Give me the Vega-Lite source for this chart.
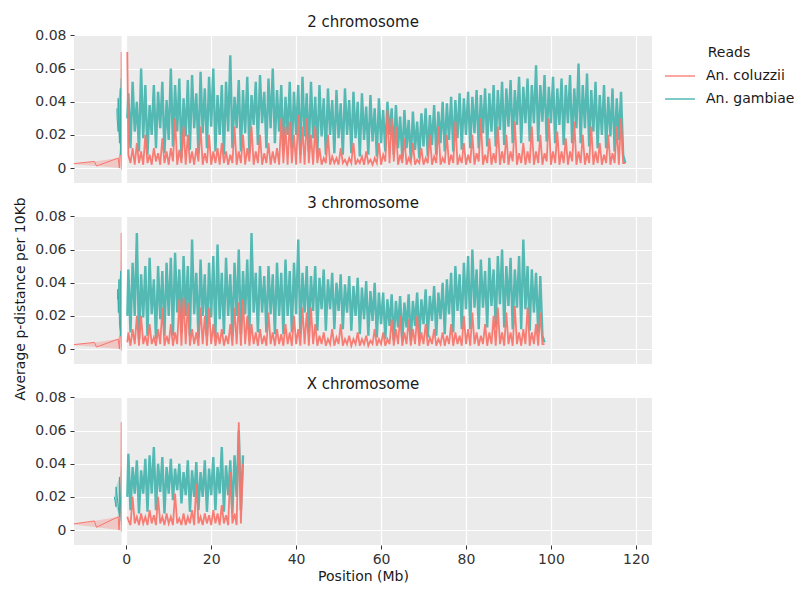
{
"$schema": "https://vega.github.io/schema/vega-lite/v6.json",
"background": "white",
"padding": {"left": 13, "top": 14, "right": 5, "bottom": 4},
"spacing": 9,
"title": {"text": "Average p-distance per 10Kb", "orient": "left", "anchor": "middle", "fontSize": 14, "offset": 7, "color": "#1a1a1a"},
"config": {
  "font": "DejaVu Sans",
  "view": {"fill": "#EBEBEB", "stroke": null},
  "axis": {"grid": true, "gridColor": "white", "gridWidth": 1.2, "domain": false, "tickColor": "#333333", "tickSize": 4, "labelPadding": 4, "labelColor": "#333333", "labelFontSize": 14, "titleFontSize": 14, "titleFontWeight": "normal", "titleColor": "#1a1a1a"},
  "title": {"fontSize": 15, "fontWeight": "normal", "color": "#1a1a1a", "offset": -1.5, "anchor": "middle"},
  "legend": {"titleFontSize": 14, "titleFontWeight": "normal", "labelFontSize": 14, "labelColor": "#1a1a1a", "titleColor": "#1a1a1a"}
},
"resolve": {"scale": {"color": "shared"}, "legend": {"color": "shared"}},
"vconcat": [
{
 "title": {"text": "2 chromosome"},
 "width": 578, "height": 148,
 "data": {"values": "x,c,g\n0.25,.07,.03\n0.5,.008,.045\n1,.003,.012\n1.5,.012,.052\n2,.002,.022\n2.5,.015,.04\n3,.003,.01\n3.5,.01,.06\n4,.002,.018\n4.5,.02,.05\n5,.003,.008\n5.5,.008,.038\n6,.002,.02\n6.5,.012,.05\n7,.004,.012\n7.5,.009,.046\n8,.002,.024\n8.5,.018,.052\n9,.003,.009\n9.5,.01,.041\n10,.002,.017\n10.5,.012,.06\n11,.004,.013\n11.5,.03,.05\n12,.002,.022\n12.5,.011,.054\n13,.003,.006\n13.5,.025,.042\n14,.002,.019\n14.5,.02,.053\n15,.003,.011\n15.5,.01,.056\n16,.002,.024\n16.5,.012,.045\n17,.004,.009\n17.5,.025,.058\n18,.002,.021\n18.5,.009,.048\n19,.003,.012\n19.5,.02,.055\n20,.002,.025\n20.5,.01,.06\n21,.003,.01\n21.5,.012,.044\n22,.002,.02\n22.5,.015,.05\n23,.003,.008\n23.5,.01,.052\n24,.002,.022\n24.5,.008,.068\n25,.003,.012\n25.5,.025,.043\n26,.002,.024\n26.5,.01,.053\n27,.003,.01\n27.5,.02,.047\n28,.002,.021\n28.5,.012,.055\n29,.004,.009\n29.5,.025,.044\n30,.002,.026\n30.5,.01,.052\n31,.003,.014\n31.5,.02,.056\n32,.002,.027\n32.5,.009,.046\n33,.003,.012\n33.5,.015,.054\n34,.002,.024\n34.5,.01,.06\n35,.003,.015\n35.5,.012,.047\n36,.002,.022\n36.5,.03,.05\n37,.003,.01\n37.5,.025,.043\n38,.002,.02\n38.5,.028,.052\n39,.003,.012\n39.5,.02,.046\n40,.002,.02\n40.5,.032,.05\n41,.003,.008\n41.5,.025,.055\n42,.002,.019\n42.5,.03,.045\n43,.003,.01\n43.5,.02,.052\n44,.002,.018\n44.5,.025,.043\n45,.003,.009\n45.5,.012,.05\n46,.002,.019\n46.5,.006,.042\n47,.003,.008\n47.5,.02,.048\n48,.002,.02\n48.5,.007,.041\n49,.003,.009\n49.5,.006,.047\n50,.002,.018\n50.5,.012,.039\n51,.003,.008\n51.5,.005,.048\n52,.002,.02\n52.5,.006,.041\n53,.003,.009\n53.5,.015,.046\n54,.002,.018\n54.5,.005,.04\n55,.003,.007\n55.5,.007,.045\n56,.002,.017\n56.5,.01,.037\n57,.003,.008\n57.5,.005,.044\n58,.002,.016\n58.5,.006,.036\n59,.003,.007\n59.5,.015,.042\n60,.002,.015\n60.5,.008,.035\n61,.004,.01\n61.5,.035,.04\n62,.003,.02\n62.5,.03,.036\n63,.004,.008\n63.5,.025,.038\n64,.002,.012\n64.5,.008,.031\n65,.003,.006\n65.5,.018,.035\n66,.002,.012\n66.5,.006,.029\n67,.003,.005\n67.5,.015,.034\n68,.002,.011\n68.5,.005,.028\n69,.003,.006\n69.5,.012,.033\n70,.002,.013\n70.5,.006,.036\n71,.003,.007\n71.5,.02,.032\n72,.002,.014\n72.5,.007,.038\n73,.003,.008\n73.5,.025,.034\n74,.002,.015\n74.5,.006,.04\n75,.003,.01\n75.5,.02,.039\n76,.002,.017\n76.5,.008,.043\n77,.003,.01\n77.5,.028,.041\n78,.002,.018\n78.5,.007,.045\n79,.003,.011\n79.5,.015,.042\n80,.002,.02\n80.5,.008,.046\n81,.003,.012\n81.5,.02,.043\n82,.002,.021\n82.5,.009,.047\n83,.004,.012\n83.5,.03,.044\n84,.002,.021\n84.5,.008,.048\n85,.003,.013\n85.5,.018,.045\n86,.002,.022\n86.5,.009,.05\n87,.003,.013\n87.5,.025,.047\n88,.002,.023\n88.5,.01,.052\n89,.003,.014\n89.5,.02,.048\n90,.002,.025\n90.5,.01,.053\n91,.004,.015\n91.5,.028,.047\n92,.002,.026\n92.5,.009,.055\n93,.003,.015\n93.5,.015,.049\n94,.002,.027\n94.5,.01,.054\n95,.003,.016\n95.5,.025,.05\n96,.002,.027\n96.5,.01,.062\n97,.003,.016\n97.5,.02,.05\n98,.002,.028\n98.5,.009,.056\n99,.004,.016\n99.5,.03,.049\n100,.002,.027\n100.5,.01,.055\n101,.003,.015\n101.5,.022,.048\n102,.002,.026\n102.5,.01,.054\n103,.003,.014\n103.5,.018,.05\n104,.002,.027\n104.5,.01,.056\n105,.004,.015\n105.5,.028,.048\n106,.002,.024\n106.5,.01,.063\n107,.003,.015\n107.5,.02,.05\n108,.002,.024\n108.5,.009,.057\n109,.003,.013\n109.5,.025,.047\n110,.002,.022\n110.5,.01,.052\n111,.003,.012\n111.5,.015,.044\n112,.002,.02\n112.5,.008,.05\n113,.003,.012\n113.5,.02,.043\n114,.002,.019\n114.5,.009,.048\n115,.003,.01\n115.5,.025,.042\n116,.002,.017\n116.5,.03,.046\n117,.003,.008\n117.5,.003,.003", "format": {"type": "csv", "parse": {"x": "number", "c": "number", "g": "number"}}},
 "encoding": {"x": {"field": "x", "type": "quantitative", "scale": {"domain": [-12.3, 123.8], "nice": false, "zero": false}, "axis": {"values": [0, 20, 40, 60, 80, 100, 120], "labels": false, "ticks": false, "title": null}}},
 "layer": [
  {"data": {"values": "r,y,x\nAn. coluzzii,-0.001,-1.1\nAn. coluzzii,0,-1.6\nAn. coluzzii,0.0012,-7\nAn. coluzzii,0.0025,-13\nAn. coluzzii,0.004,-7.5\nAn. coluzzii,0.006,-1.9\nAn. coluzzii,0.01,-1.4\nAn. coluzzii,0.02,-1.25\nAn. coluzzii,0.07,-1.15\nAn. gambiae,0.001,-1.1\nAn. gambiae,0.008,-1.3\nAn. gambiae,0.015,-1.6\nAn. gambiae,0.022,-1.9\nAn. gambiae,0.03,-2.15\nAn. gambiae,0.036,-2.2\nAn. gambiae,0.042,-1.9\nAn. gambiae,0.048,-1.4\nAn. gambiae,0.054,-1.15\nAn. gambiae,0.06,-1.1", "format": {"type": "csv", "parse": {"y": "number", "x": "number"}}},
   "mark": {"type": "area", "orient": "horizontal", "clip": true, "fillOpacity": 0.3, "line": {"strokeWidth": 1}},
   "encoding": {"y": {"field": "y", "type": "quantitative", "scale": {"domain": [-0.009, 0.0802], "nice": false, "zero": false}, "axis": {"values": [0, 0.02, 0.04, 0.06, 0.08], "labelExpr": "datum.value == 0 ? '0' : format(datum.value, '.2f')", "title": null}}, "x2": {"datum": -1.1}, "color": {"field": "r", "type": "nominal", "title": "Reads", "scale": {"domain": ["An. coluzzii", "An. gambiae"], "range": ["#F8766D", "#3AAFA9"]}, "legend": {"orient": "none", "legendX": 590, "legendY": 11, "symbolType": "stroke", "symbolSize": 900, "symbolStrokeWidth": 1.5, "symbolOpacity": 0.5, "labelOffset": 10, "titleAnchor": "middle", "titlePadding": 0, "rowPadding": -2}}}},
  {"data": {"values": [{"x": -0.5}]}, "mark": {"type": "rule", "color": "white", "strokeWidth": 5}, "encoding": {}},
  {"mark": {"type": "line", "strokeWidth": 2.4, "opacity": 0.85, "clip": true},
   "encoding": {"y": {"field": "g", "type": "quantitative", "scale": {"domain": [-0.009, 0.0802], "nice": false, "zero": false}, "axis": {"values": [0, 0.02, 0.04, 0.06, 0.08], "labelExpr": "datum.value == 0 ? '0' : format(datum.value, '.2f')", "title": null}}, "color": {"datum": "An. gambiae", "type": "nominal", "title": "Reads"}}},
  {"mark": {"type": "line", "strokeWidth": 1.8, "opacity": 0.95, "clip": true},
   "encoding": {"y": {"field": "c", "type": "quantitative", "scale": {"domain": [-0.009, 0.0802], "nice": false, "zero": false}, "axis": {"values": [0, 0.02, 0.04, 0.06, 0.08], "labelExpr": "datum.value == 0 ? '0' : format(datum.value, '.2f')", "title": null}}, "color": {"datum": "An. coluzzii", "type": "nominal", "title": "Reads"}}}
 ]
},
{
 "title": {"text": "3 chromosome"},
 "width": 578, "height": 148,
 "data": {"values": "x,c,g\n0.25,.004,.02\n0.5,.01,.048\n1,.002,.01\n1.5,.012,.052\n2,.003,.02\n2.5,.02,.07\n3,.002,.006\n3.5,.02,.045\n4,.003,.019\n4.5,.008,.05\n5,.002,.008\n5.5,.015,.055\n6,.003,.021\n6.5,.007,.042\n7,.002,.006\n7.5,.012,.05\n8,.003,.018\n8.5,.025,.047\n9,.002,.008\n9.5,.008,.052\n10,.003,.02\n10.5,.015,.055\n11,.002,.008\n11.5,.01,.058\n12,.003,.022\n12.5,.03,.048\n13,.002,.01\n13.5,.031,.056\n14,.003,.02\n14.5,.028,.05\n15,.002,.008\n15.5,.012,.066\n16,.003,.021\n16.5,.01,.046\n17,.002,.007\n17.5,.025,.054\n18,.003,.02\n18.5,.02,.045\n19,.002,.008\n19.5,.025,.052\n20,.003,.019\n20.5,.015,.056\n21,.002,.007\n21.5,.01,.063\n22,.003,.018\n22.5,.012,.046\n23,.002,.009\n23.5,.008,.055\n24,.003,.02\n24.5,.015,.045\n25,.002,.008\n25.5,.025,.052\n26,.003,.02\n26.5,.028,.06\n27,.002,.009\n27.5,.03,.047\n28,.003,.021\n28.5,.02,.054\n29,.002,.009\n29.5,.015,.07\n30,.003,.022\n30.5,.01,.046\n31,.002,.01\n31.5,.012,.05\n32,.003,.022\n32.5,.008,.044\n33,.002,.01\n33.5,.022,.05\n34,.003,.021\n34.5,.01,.045\n35,.002,.009\n35.5,.012,.052\n36,.003,.02\n36.5,.009,.046\n37,.002,.009\n37.5,.015,.054\n38,.003,.02\n38.5,.01,.047\n39,.002,.01\n39.5,.02,.052\n40,.003,.021\n40.5,.012,.066\n41,.002,.009\n41.5,.025,.046\n42,.003,.022\n42.5,.022,.05\n43,.002,.01\n43.5,.025,.044\n44,.003,.023\n44.5,.015,.05\n45,.002,.011\n45.5,.008,.043\n46,.003,.024\n46.5,.01,.048\n47,.002,.011\n47.5,.006,.042\n48,.003,.024\n48.5,.012,.046\n49,.002,.012\n49.5,.007,.04\n50,.003,.023\n50.5,.015,.045\n51,.002,.012\n51.5,.006,.039\n52,.003,.022\n52.5,.008,.044\n53,.002,.011\n53.5,.006,.038\n54,.003,.02\n54.5,.01,.043\n55,.002,.009\n55.5,.006,.037\n56,.003,.018\n56.5,.008,.041\n57,.002,.008\n57.5,.005,.035\n58,.003,.017\n58.5,.012,.04\n59,.002,.007\n59.5,.006,.034\n60,.003,.015\n60.5,.01,.034\n61,.002,.006\n61.5,.006,.03\n62,.003,.014\n62.5,.018,.033\n63,.002,.005\n63.5,.012,.029\n64,.003,.013\n64.5,.02,.032\n65,.002,.005\n65.5,.01,.028\n66,.003,.013\n66.5,.018,.033\n67,.002,.005\n67.5,.012,.029\n68,.003,.014\n68.5,.02,.034\n69,.002,.006\n69.5,.01,.03\n70,.003,.015\n70.5,.015,.036\n71,.002,.007\n71.5,.007,.032\n72,.003,.017\n72.5,.012,.038\n73,.002,.008\n73.5,.006,.034\n74,.003,.018\n74.5,.01,.04\n75,.002,.009\n75.5,.008,.042\n76,.003,.021\n76.5,.015,.046\n77,.002,.01\n77.5,.01,.05\n78,.003,.023\n78.5,.008,.045\n79,.002,.012\n79.5,.02,.052\n80,.003,.024\n80.5,.012,.056\n81,.002,.012\n81.5,.022,.06\n82,.003,.025\n82.5,.01,.048\n83,.002,.012\n83.5,.008,.054\n84,.003,.025\n84.5,.015,.047\n85,.002,.013\n85.5,.01,.055\n86,.003,.026\n86.5,.02,.048\n87,.002,.013\n87.5,.025,.056\n88,.003,.027\n88.5,.01,.06\n89,.002,.013\n89.5,.022,.05\n90,.003,.026\n90.5,.01,.055\n91,.002,.012\n91.5,.026,.048\n92,.003,.025\n92.5,.01,.056\n93,.002,.012\n93.5,.012,.066\n94,.003,.024\n94.5,.025,.05\n95,.002,.011\n95.5,.01,.048\n96,.003,.022\n96.5,.015,.046\n97,.002,.01\n97.5,.022,.044\n98,.003,.008\n98.5,.003,.004", "format": {"type": "csv", "parse": {"x": "number", "c": "number", "g": "number"}}},
 "encoding": {"x": {"field": "x", "type": "quantitative", "scale": {"domain": [-12.3, 123.8], "nice": false, "zero": false}, "axis": {"values": [0, 20, 40, 60, 80, 100, 120], "labels": false, "ticks": false, "title": null}}},
 "layer": [
  {"data": {"values": "r,y,x\nAn. coluzzii,-0.001,-1.1\nAn. coluzzii,0,-1.6\nAn. coluzzii,0.0012,-7\nAn. coluzzii,0.0025,-13\nAn. coluzzii,0.004,-7.5\nAn. coluzzii,0.006,-1.9\nAn. coluzzii,0.01,-1.4\nAn. coluzzii,0.02,-1.25\nAn. coluzzii,0.07,-1.15\nAn. gambiae,0.001,-1.1\nAn. gambiae,0.008,-1.3\nAn. gambiae,0.015,-1.6\nAn. gambiae,0.022,-1.85\nAn. gambiae,0.03,-2.05\nAn. gambiae,0.036,-2.0\nAn. gambiae,0.042,-1.7\nAn. gambiae,0.047,-1.3\nAn. gambiae,0.052,-1.1", "format": {"type": "csv", "parse": {"y": "number", "x": "number"}}},
   "mark": {"type": "area", "orient": "horizontal", "clip": true, "fillOpacity": 0.3, "line": {"strokeWidth": 1}},
   "encoding": {"y": {"field": "y", "type": "quantitative", "scale": {"domain": [-0.009, 0.0802], "nice": false, "zero": false}, "axis": {"values": [0, 0.02, 0.04, 0.06, 0.08], "labelExpr": "datum.value == 0 ? '0' : format(datum.value, '.2f')", "title": null}}, "x2": {"datum": -1.1}, "color": {"field": "r", "type": "nominal", "title": "Reads"}}},
  {"data": {"values": [{"x": -0.5}]}, "mark": {"type": "rule", "color": "white", "strokeWidth": 5}, "encoding": {}},
  {"mark": {"type": "line", "strokeWidth": 2.4, "opacity": 0.85, "clip": true},
   "encoding": {"y": {"field": "g", "type": "quantitative", "scale": {"domain": [-0.009, 0.0802], "nice": false, "zero": false}, "axis": {"values": [0, 0.02, 0.04, 0.06, 0.08], "labelExpr": "datum.value == 0 ? '0' : format(datum.value, '.2f')", "title": null}}, "color": {"datum": "An. gambiae", "type": "nominal", "title": "Reads"}}},
  {"mark": {"type": "line", "strokeWidth": 1.8, "opacity": 0.95, "clip": true},
   "encoding": {"y": {"field": "c", "type": "quantitative", "scale": {"domain": [-0.009, 0.0802], "nice": false, "zero": false}, "axis": {"values": [0, 0.02, 0.04, 0.06, 0.08], "labelExpr": "datum.value == 0 ? '0' : format(datum.value, '.2f')", "title": null}}, "color": {"datum": "An. coluzzii", "type": "nominal", "title": "Reads"}}}
 ]
},
{
 "title": {"text": "X chromosome"},
 "width": 578, "height": 148,
 "data": {"values": "x,c,g\n0.25,.008,.02\n0.5,.006,.046\n1,.003,.012\n1.5,.02,.038\n2,.004,.022\n2.5,.008,.042\n3,.003,.01\n3.5,.01,.036\n4,.004,.022\n4.5,.008,.043\n5,.003,.011\n5.5,.012,.045\n6,.004,.022\n6.5,.009,.05\n7,.003,.012\n7.5,.02,.04\n8,.004,.023\n8.5,.008,.044\n9,.003,.01\n9.5,.01,.038\n10,.004,.022\n10.5,.008,.043\n11,.003,.018\n11.5,.022,.037\n12,.004,.024\n12.5,.007,.04\n13,.003,.016\n13.5,.01,.035\n14,.003,.021\n14.5,.008,.042\n15,.004,.011\n15.5,.012,.036\n16,.003,.02\n16.5,.028,.041\n17,.004,.012\n17.5,.008,.035\n18,.003,.02\n18.5,.01,.042\n19,.004,.011\n19.5,.009,.037\n20,.003,.021\n20.5,.012,.044\n21,.004,.012\n21.5,.01,.038\n22,.003,.022\n22.5,.015,.05\n23,.004,.011\n23.5,.009,.039\n24,.003,.021\n24.5,.035,.042\n25,.004,.01\n25.5,.01,.045\n26,.003,.02\n26.5,.065,.06\n27,.004,.012\n27.5,.04,.045", "format": {"type": "csv", "parse": {"x": "number", "c": "number", "g": "number"}}},
 "encoding": {"x": {"field": "x", "type": "quantitative", "scale": {"domain": [-12.3, 123.8], "nice": false, "zero": false}, "axis": {"values": [0, 20, 40, 60, 80, 100, 120], "title": "Position (Mb)", "labelPadding": 3, "titlePadding": 3}}},
 "layer": [
  {"data": {"values": "r,y,x\nAn. coluzzii,-0.001,-1.1\nAn. coluzzii,0,-1.7\nAn. coluzzii,0.0017,-7\nAn. coluzzii,0.0035,-13\nAn. coluzzii,0.0055,-7.5\nAn. coluzzii,0.008,-1.9\nAn. coluzzii,0.012,-1.4\nAn. coluzzii,0.02,-1.25\nAn. coluzzii,0.065,-1.15\nAn. gambiae,0.003,-1.1\nAn. gambiae,0.008,-1.6\nAn. gambiae,0.014,-2.4\nAn. gambiae,0.02,-2.8\nAn. gambiae,0.026,-2.4\nAn. gambiae,0.032,-1.6\nAn. gambiae,0.038,-1.1", "format": {"type": "csv", "parse": {"y": "number", "x": "number"}}},
   "mark": {"type": "area", "orient": "horizontal", "clip": true, "fillOpacity": 0.3, "line": {"strokeWidth": 1}},
   "encoding": {"y": {"field": "y", "type": "quantitative", "scale": {"domain": [-0.009, 0.0802], "nice": false, "zero": false}, "axis": {"values": [0, 0.02, 0.04, 0.06, 0.08], "labelExpr": "datum.value == 0 ? '0' : format(datum.value, '.2f')", "title": null}}, "x2": {"datum": -1.1}, "color": {"field": "r", "type": "nominal", "title": "Reads"}}},
  {"data": {"values": [{"x": -0.5}]}, "mark": {"type": "rule", "color": "white", "strokeWidth": 5}, "encoding": {}},
  {"mark": {"type": "line", "strokeWidth": 2.4, "opacity": 0.85, "clip": true},
   "encoding": {"y": {"field": "g", "type": "quantitative", "scale": {"domain": [-0.009, 0.0802], "nice": false, "zero": false}, "axis": {"values": [0, 0.02, 0.04, 0.06, 0.08], "labelExpr": "datum.value == 0 ? '0' : format(datum.value, '.2f')", "title": null}}, "color": {"datum": "An. gambiae", "type": "nominal", "title": "Reads"}}},
  {"mark": {"type": "line", "strokeWidth": 1.8, "opacity": 0.95, "clip": true},
   "encoding": {"y": {"field": "c", "type": "quantitative", "scale": {"domain": [-0.009, 0.0802], "nice": false, "zero": false}, "axis": {"values": [0, 0.02, 0.04, 0.06, 0.08], "labelExpr": "datum.value == 0 ? '0' : format(datum.value, '.2f')", "title": null}}, "color": {"datum": "An. coluzzii", "type": "nominal", "title": "Reads"}}}
 ]
}
]
}
